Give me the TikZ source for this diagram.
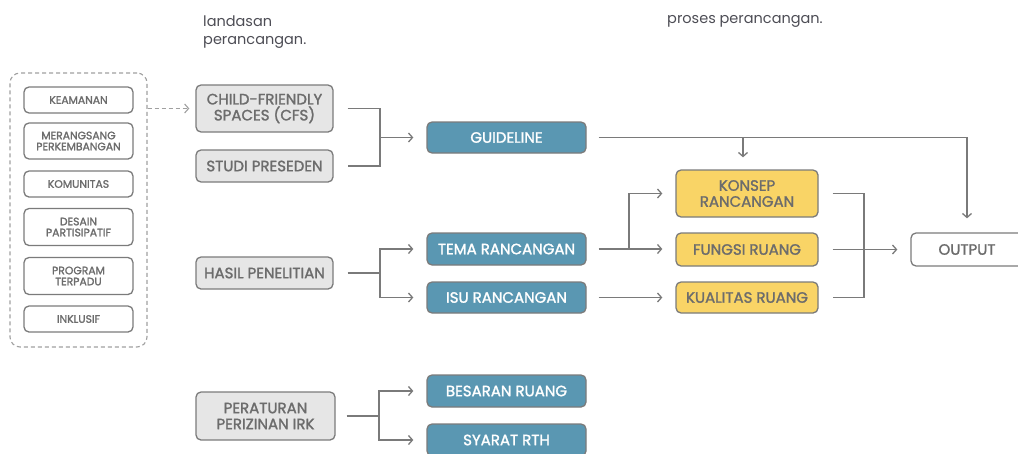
\documentclass[tikz,border=0pt]{standalone}
\usepackage{fontspec}
\setmainfont{Poppins}
\newfontfamily\popm{Poppins}[FakeBold=1.6]
\usetikzlibrary{arrows.meta}
\definecolor{greyc}{HTML}{E6E6E6}
\definecolor{bordc}{HTML}{7B7B7B}
\definecolor{bluec}{HTML}{5A97B2}
\definecolor{yelc}{HTML}{F9D466}
\definecolor{txtc}{HTML}{6C6C6C}
\definecolor{titc}{HTML}{4D4D55}
\definecolor{linec}{HTML}{7A7A7A}
\definecolor{dashc}{HTML}{A0A0A0}
\tikzset{
  base/.style={draw=bordc, line width=1.3pt, rounded corners=5pt, align=center, inner sep=0pt,
    font=\popm\fontsize{15}{16}\selectfont, text=txtc},
  greybox/.style={base, fill=greyc, minimum width=137pt},
  bluebox/.style={base, fill=bluec, text=white, minimum width=159pt},
  yellowbox/.style={base, fill=yelc, minimum width=142pt},
  smallbox/.style={base, fill=white, minimum width=109pt, font=\popm\fontsize{10.8}{11}\selectfont},
  outbox/.style={base, fill=white, minimum width=112pt},
  conn/.style={draw=linec, line width=1.3pt},
  arr/.style={conn, -{Straight Barb[length=4pt,width=9pt]}, shorten >=13pt},
  title/.style={font=\fontsize{14.5}{18}\selectfont, text=titc, align=left, inner sep=0pt},
}
\begin{document}
\begin{tikzpicture}[x=1pt,y=-1pt]
\useasboundingbox (0,0) rectangle (1018,453);
% titles
\node[title, anchor=north west] (t1) at (203,15.5) {landasan\\perancangan.};
\node[title, anchor=north west] (t2) at (667,15.5) {proses perancangan.};
% left dashed group
\node[draw=dashc, dash pattern=on 4pt off 3pt, line width=1.1pt, rounded corners=10pt,
  minimum width=137pt, minimum height=274pt] (outer) at (78.5,210) {};
\node[smallbox, minimum height=26pt] (kea) at (78.5,100) {KEAMANAN};
\node[smallbox, minimum height=36pt] (mer) at (78.5,141) {MERANGSANG\\PERKEMBANGAN};
\node[smallbox, minimum height=26pt] (kom) at (78.5,184) {KOMUNITAS};
\node[smallbox, minimum height=37pt] (des) at (78.5,227) {DESAIN\\PARTISIPATIF};
\node[smallbox, minimum height=37pt] (pro) at (78.5,276) {PROGRAM\\TERPADU};
\node[smallbox, minimum height=26pt] (ink) at (78.5,319) {INKLUSIF};
% grey sources
\node[greybox, minimum height=47pt] (cfs) at (264.5,108.5) {CHILD-FRIENDLY\\SPACES (CFS)};
\node[greybox, minimum height=32pt] (stu) at (264.5,166) {STUDI PRESEDEN};
\node[greybox, minimum height=32pt] (has) at (264.5,273) {HASIL PENELITIAN};
\node[greybox, minimum height=48pt, minimum width=139pt] (per) at (265.5,416) {PERATURAN\\PERIZINAN IRK};
% blue
\node[bluebox, minimum height=31pt] (gui) at (506.5,137.5) {GUIDELINE};
\node[bluebox, minimum height=32pt] (tem) at (506.5,249) {TEMA RANCANGAN};
\node[bluebox, minimum height=31pt] (isu) at (506.5,297.5) {ISU RANCANGAN};
\node[bluebox, minimum height=32pt] (bes) at (506.5,391) {BESARAN RUANG};
\node[bluebox, minimum height=32pt] (sya) at (506.5,440) {SYARAT RTH};
% yellow
\node[yellowbox, minimum height=47pt] (kon) at (747,193.5) {KONSEP\\RANCANGAN};
\node[yellowbox, minimum height=33pt] (fun) at (747,249.5) {FUNGSI RUANG};
\node[yellowbox, minimum height=31pt] (kua) at (747,297.5) {KUALITAS RUANG};
% output
\node[outbox, minimum height=33pt] (out) at (967,249.5) {OUTPUT};
% junctions
\coordinate (j1) at (380,137.5);
\coordinate (j2) at (380,273);
\coordinate (j3) at (629,249);
\coordinate (j5) at (864,249.5);
\coordinate (j6) at (379,416);
% connectors
\draw[conn, dashc, dash pattern=on 4pt off 3pt, line width=1.1pt, -{Straight Barb[length=4pt,width=9pt]}, shorten >=6pt]
  (outer.east |- cfs.west) -- (cfs.west);
\draw[conn] ([xshift=14pt]cfs.east) -| (j1) |- ([xshift=14pt]stu.east);
\draw[arr] (j1) -- (gui.west);
\draw[conn] ([xshift=14pt]has.east) -- (j2);
\draw[arr] (j2) |- (tem.west);
\draw[arr] (j2) |- (isu.west);
\draw[arr] ([xshift=12pt]tem.east) -- (tem.east -| fun.west);
\draw[arr] (j3) |- (kon.west);
\draw[arr] ([xshift=12pt]isu.east) -- (kua.west);
\draw[arr, shorten >=14pt] ([xshift=12pt]gui.east) -| (out.north);
\draw[arr, shorten >=12pt] ([xshift=-4pt]kon.north |- gui.east) -- ([xshift=-4pt]kon.north);
\draw[conn] ([xshift=14pt]kon.east) -| (j5) |- ([xshift=14pt]kua.east);
\draw[arr] ([xshift=14pt]fun.east) -- (out.west);
\draw[conn] ([xshift=11pt]per.east) -- (j6);
\draw[arr] (j6) |- (bes.west);
\draw[arr] (j6) |- (sya.west);
\end{tikzpicture}
\end{document}
